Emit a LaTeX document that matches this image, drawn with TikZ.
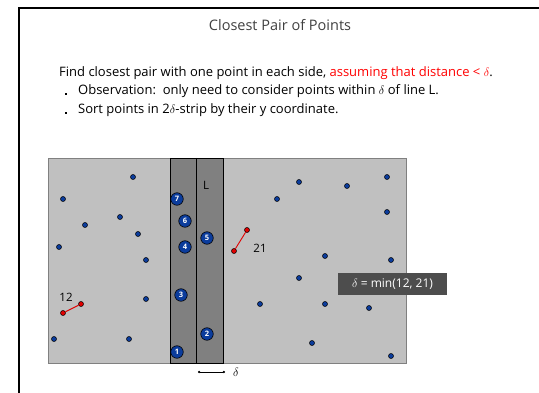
\documentclass[tikz,border=0pt]{standalone}
\usepackage{fontspec}
\setmainfont{Open Sans}
\usetikzlibrary{arrows.meta}
\definecolor{ptblue}{HTML}{0B3C9C}
\definecolor{lightg}{HTML}{C0C0C0}
\definecolor{darkg}{HTML}{808080}
\definecolor{boxg}{HTML}{4D4D4D}
\definecolor{redpt}{HTML}{E00000}
\begin{document}
\begin{tikzpicture}[x=1pt,y=-1pt,
  dot/.style={circle,draw=black,fill=ptblue,line width=0.5pt,inner sep=0pt,minimum size=5pt},
  rdot/.style={circle,draw=black,fill=redpt,line width=0.5pt,inner sep=0pt,minimum size=5pt},
  num/.style={circle,draw=black,fill=ptblue,line width=0.6pt,inner sep=0pt,minimum size=12.5pt,text=white,font=\fontsize{7.5}{8}\selectfont\bfseries},
  pair/.style={draw=redpt,line width=0.9pt},
  lbl/.style={font=\fontsize{11.5}{13}\selectfont,inner sep=0pt},
  txt/.style={font=\fontsize{13}{15}\selectfont,inner sep=0pt,anchor=west}]
\useasboundingbox (0,0) rectangle (539,393);
% slide frame
\draw[line width=2pt,black] (19,393) -- (19,8) -- (539,8);
% title and text
\node[font=\fontsize{14.5}{16}\selectfont,text=black!75,inner sep=0pt] (title) at (280,25) {Closest Pair of Points};
\node[txt] (t1) at (59,73) {Find closest pair with one point in each side, \textcolor{red}{assuming that distance < $\delta$}.};
\node[txt] (t2) at (78,91) {Observation:\ \ only need to consider points within $\delta$ of line L.};
\node[txt] (t3) at (78,110) {Sort points in 2$\delta$-strip by their y coordinate.};
\fill (65,93) rectangle (67,95);
\fill (65,112) rectangle (67,114);
% regions
\filldraw[fill=lightg,draw=darkg,line width=0.8pt] (48,158) rectangle (406,363);
\fill[darkg] (170,158) rectangle (223,363);
\draw[black,line width=0.7pt] (170,158) rectangle (223,363);
\draw[black,line width=0.9pt] (196,158) -- (196,363);
\node[lbl] (L) at (206,185) {L};
% left points
\foreach \p/\q [count=\i] in {133/177, 63/199, 120/217, 85/225, 138/234, 59/247, 146/260, 146/299, 54/339, 129/339}
  \node[dot] (l\i) at (\p,\q) {};
% right points
\foreach \p/\q [count=\i] in {299/182, 347/186, 387/177, 277/199, 387/212, 325/256, 391/260, 299/278, 260/304, 325/304, 369/308, 312/343, 391/356}
  \node[dot] (r\i) at (\p,\q) {};
% red pairs
\node[rdot] (ra) at (81,304) {};
\node[rdot] (rb) at (63,313) {};
\draw[pair] (ra) -- (rb);
\node[lbl] (l12) at (66,297) {12};
\node[rdot] (rc) at (247,230) {};
\node[rdot] (rd) at (234,251) {};
\draw[pair] (rc) -- (rd);
\node[lbl] (l21) at (260,248) {21};
% numbered strip points
\node[num] (n1) at (177,352) {1};
\node[num] (n2) at (207,334) {2};
\node[num] (n3) at (181,295) {3};
\node[num] (n4) at (185,247) {4};
\node[num] (n5) at (207,238) {5};
\node[num] (n6) at (185,221) {6};
\node[num] (n7) at (177,199) {7};
% delta box
\node[fill=boxg,text=white,font=\fontsize{12}{13}\selectfont,minimum width=109pt,minimum height=22pt,inner sep=0pt] (dbox) at (392.5,284.5) {$\delta$ = min(12, 21)};
% delta arrow
\coordinate (da) at (198,372);
\coordinate (db) at (225,372);
\draw[black,line width=0.8pt,{Circle[length=2.2pt]}-{Circle[length=2.2pt]}] (da) -- (db);
\node[lbl,font=\fontsize{12.5}{13}\selectfont] (dl) at (236,372) {$\delta$};
\end{tikzpicture}
\end{document}
